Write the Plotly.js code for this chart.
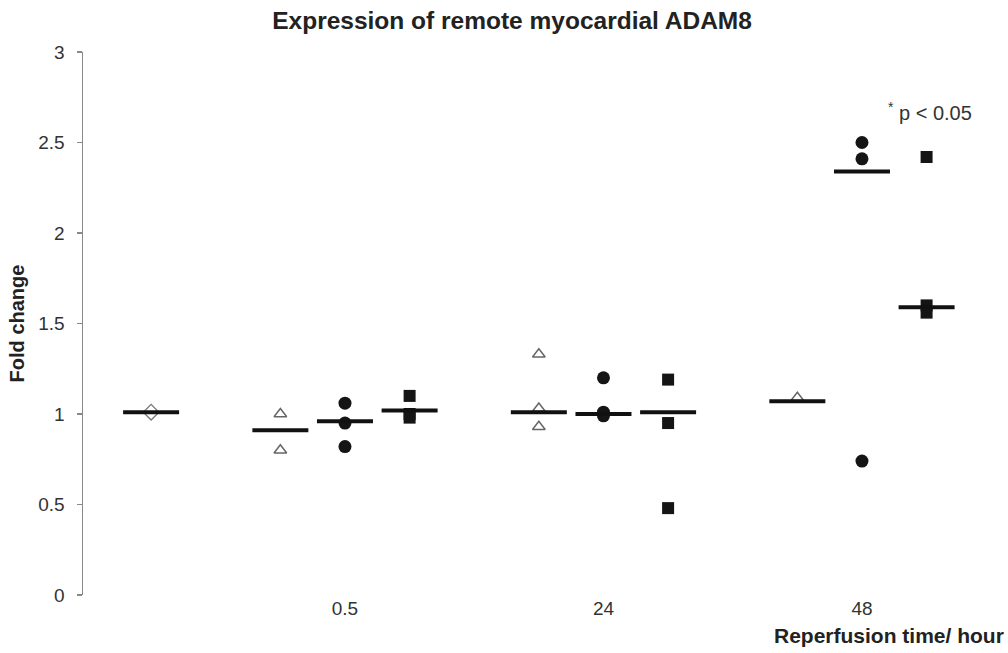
<!DOCTYPE html>
<html>
<head>
<meta charset="utf-8">
<script src="https://cdn.plot.ly/plotly-3.0.1.min.js"></script>
<style>html,body{margin:0;padding:0;background:#fff}#chart{width:1008px;height:653px}</style>
</head>
<body>
<div id="chart"></div>
<script>
// Group positions on the x axis (0 = control, 1..3 = reperfusion times)
var groupPos = [1, 2, 3];
var groupLabels = ["0.5", "24", "48"];
var controlPos = 0.25;
var seriesOffset = {triangle: -0.25, circle: 0, square: 0.25};

// Control (sham) value
var controlVals = [1.01];
var controlMean = [1.01];

// Individual values per time point
var triangleVals = [[1.00, 0.80], [1.33, 1.03, 0.93], [1.09]];
var circleVals   = [[1.06, 0.95, 0.82], [1.20, 1.01, 0.99], [2.50, 2.41, 0.74]];
var squareVals   = [[1.10, 1.00, 0.98], [1.19, 0.95, 0.48], [2.42, 1.60, 1.56]];

// Group summary lines
var triangleMean = [0.91, 1.01, 1.07];
var circleMean   = [0.96, 1.00, 2.34];
var squareMean   = [1.02, 1.01, 1.59];

function pts(vals, off) {
  var x = [], y = [];
  vals.forEach(function (arr, i) {
    arr.forEach(function (v) { x.push(groupPos[i] + off); y.push(v); });
  });
  return {x: x, y: y};
}
function meanPts(vals, off) {
  return {x: groupPos.map(function (g) { return g + off; }), y: vals};
}

var tri = pts(triangleVals, seriesOffset.triangle);
var cir = pts(circleVals, seriesOffset.circle);
var sq  = pts(squareVals, seriesOffset.square);
var mt = meanPts(triangleMean, seriesOffset.triangle);
var mc = meanPts(circleMean, seriesOffset.circle);
var ms = meanPts(squareMean, seriesOffset.square);

var meanMarker = {symbol: 'line-ew', size: 40, color: '#111', line: {color: '#111', width: 4}};

var traces = [
  {x: [controlPos], y: controlVals, mode: 'markers', type: 'scatter',
   marker: {symbol: 'diamond-open', size: 12, color: '#777', line: {width: 1.3}}},
  {x: tri.x, y: tri.y, mode: 'markers', type: 'scatter',
   marker: {symbol: 'triangle-up-open', size: 11, color: '#666', line: {width: 1.5}}},
  {x: cir.x, y: cir.y, mode: 'markers', type: 'scatter',
   marker: {symbol: 'circle', size: 13, color: '#151515'}},
  {x: sq.x, y: sq.y, mode: 'markers', type: 'scatter',
   marker: {symbol: 'square', size: 12, color: '#151515'}},
  {x: [controlPos], y: controlMean, mode: 'markers', type: 'scatter', marker: meanMarker},
  {x: mt.x, y: mt.y, mode: 'markers', type: 'scatter', marker: meanMarker},
  {x: mc.x, y: mc.y, mode: 'markers', type: 'scatter', marker: meanMarker},
  {x: ms.x, y: ms.y, mode: 'markers', type: 'scatter', marker: meanMarker}
];

var layout = {
  width: 1008, height: 653,
  margin: {l: 83, r: 8, t: 52, b: 58},
  paper_bgcolor: '#fff', plot_bgcolor: '#fff',
  showlegend: false,
  font: {family: 'Arial, Liberation Sans, sans-serif', color: '#222'},
  title: {text: '<b>Expression of remote myocardial ADAM8</b>', x: 0.508, xanchor: 'center',
          y: 0.968, yanchor: 'middle', font: {size: 24.5, color: '#222'}},
  xaxis: {range: [-0.0135, 3.534], showgrid: false, zeroline: false, showline: false,
          tickmode: 'array', tickvals: groupPos, ticktext: groupLabels, ticks: '',
          tickfont: {size: 19, color: '#333'}, fixedrange: true},
  yaxis: {range: [0, 3], dtick: 0.5, showgrid: false, zeroline: false, showline: true,
          linecolor: '#888', linewidth: 1.5, ticks: 'outside', ticklen: 5, tickcolor: '#888',
          tickwidth: 1.5, tickfont: {size: 19, color: '#333'}, ticklabelstandoff: 8,
          title: {text: '<b>Fold change</b>', font: {size: 20, color: '#222'}, standoff: 8}},
  annotations: [
    {text: '<b>Reperfusion time/ hour</b>', xref: 'paper', yref: 'paper', x: 1.006, y: -0.075,
     xanchor: 'right', yanchor: 'middle', showarrow: false, font: {size: 21, color: '#222'}},
    {text: '<sup>*</sup> p < 0.05', xref: 'x', yref: 'y', x: 3.262, y: 2.67,
     xanchor: 'center', yanchor: 'middle', showarrow: false, font: {size: 20, color: '#333'}}
  ]
};

Plotly.newPlot('chart', traces, layout, {displayModeBar: false, staticPlot: true});
</script>
</body>
</html>
